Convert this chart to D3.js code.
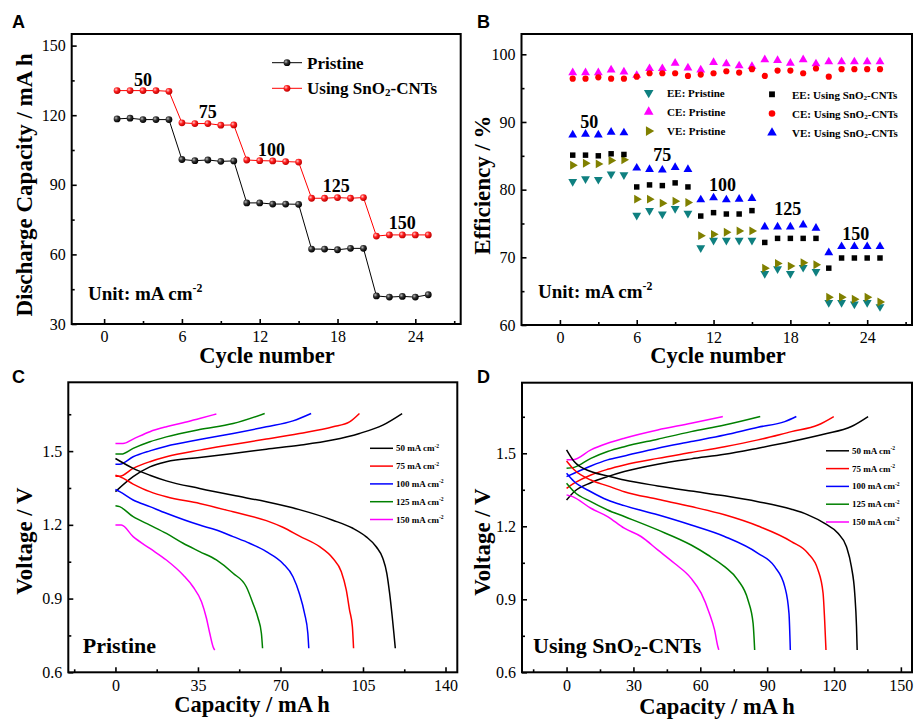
<!DOCTYPE html>
<html>
<head>
<meta charset="utf-8">
<script src="https://cdn.jsdelivr.net/npm/d3@7"></script>
<style>
  body { margin: 0; background: #fff; }
  svg text { font-family: "Liberation Serif", "Times New Roman", serif; }
  svg text.letter { font-family: "Liberation Sans", Arial, sans-serif; }
</style>
</head>
<body>
<div id="chart"></div>
<script>
'use strict'

////////////////////////////////////
/////////////// data ///////////////
////////////////////////////////////

const cycles = d3.range(1, 26)
const rateLabels = ['50', '75', '100', '125', '150']

// panel A: discharge capacity (mA h)
const capPristine = [118.4, 118.7, 118.1, 118.1, 118.1, 100.9, 100.4, 100.7, 100.1, 100.3,
    82.2, 82.2, 81.7, 81.7, 81.6, 62.3, 62.3, 62.0, 62.6, 62.6, 42.1, 41.6, 41.9, 41.6, 42.6]
const capSnO2 = [130.6, 130.6, 130.6, 130.6, 130.3, 116.7, 116.4, 116.4, 115.7, 115.8,
    100.7, 100.4, 100.3, 100.0, 99.8, 84.2, 84.2, 84.5, 84.2, 84.5, 67.9, 68.4, 68.4, 68.4, 68.4]

// panel B: efficiencies (%)
const eePristine = [81.2, 81.6, 81.5, 82.3, 82.2, 76.2, 76.9, 76.4, 77.2, 76.5,
    71.4, 72.5, 72.5, 72.5, 72.5, 67.6, 68.3, 67.6, 68.5, 67.9, 63.3, 63.3, 63.1, 63.3, 62.7]
const cePristine = [97.3, 97.3, 97.3, 97.7, 97.4, 96.9, 97.9, 97.9, 98.7, 98.0,
    97.7, 98.8, 98.6, 98.3, 98.2, 99.2, 99.1, 98.7, 99.2, 98.6, 98.9, 98.9, 98.9, 98.9, 98.9]
const vePristine = [83.6, 83.9, 83.8, 84.3, 84.4, 78.6, 78.6, 78.0, 78.3, 78.1,
    73.2, 73.4, 73.7, 73.9, 73.9, 68.4, 69.1, 68.7, 69.2, 68.9, 64.1, 64.1, 63.8, 64.1, 63.4]
const eeSnO2 = [85.1, 85.1, 85.0, 85.3, 85.2, 80.4, 80.7, 80.6, 81.0, 80.4,
    76.1, 76.6, 76.4, 76.4, 76.9, 72.2, 72.8, 72.8, 72.8, 72.8, 68.4, 69.9, 69.9, 69.9, 69.9]
const ceSnO2 = [96.4, 96.4, 96.6, 96.4, 96.4, 96.7, 97.2, 97.2, 97.2, 96.8,
    97.0, 97.2, 97.5, 97.3, 97.8, 96.8, 97.6, 97.6, 97.2, 97.9, 96.7, 97.8, 97.8, 97.8, 97.8]
const veSnO2 = [88.1, 88.2, 88.1, 88.5, 88.4, 83.2, 83.0, 82.9, 83.3, 83.0,
    78.5, 78.8, 78.5, 78.6, 78.7, 74.5, 74.5, 74.5, 74.8, 74.3, 70.7, 71.6, 71.6, 71.6, 71.6]

// rate labels placed over the steps: [cycle, value]
const stepLabelsA = [[3, 132.6], [8, 118.7], [12.9, 102.4], [17.9, 87], [23, 70.8]]
const stepLabelsB = [[2.3, 89.1], [8, 84.2], [12.7, 79.8], [17.8, 76.2], [23.1, 72.6]]

// panel C: pristine, [capacity mA h, voltage V]
const chargePristine = [
    [[0, 1.335], [7.5, 1.396], [14.6, 1.436], [21.6, 1.457], [35.7, 1.474], [49.9, 1.49], [64, 1.508], [78, 1.524], [92, 1.545], [103.5, 1.572], [113.4, 1.606], [121.6, 1.653]],
    [[0, 1.398], [1.8, 1.398], [7.5, 1.43], [14.6, 1.457], [21.6, 1.477], [35.7, 1.504], [49.9, 1.527], [64, 1.549], [78, 1.572], [92.3, 1.599], [99.3, 1.619], [103.5, 1.653]],
    [[0, 1.447], [1.8, 1.447], [7.5, 1.477], [14.6, 1.501], [21.6, 1.52], [35.7, 1.547], [49.9, 1.572], [64, 1.599], [75.3, 1.623], [83, 1.653]],
    [[0, 1.488], [2.5, 1.488], [7.5, 1.511], [14.6, 1.538], [21.6, 1.558], [35.7, 1.588], [49.9, 1.612], [63.3, 1.653]],
    [[0, 1.531], [3.2, 1.531], [7.5, 1.549], [14.6, 1.579], [21.6, 1.599], [28.7, 1.615], [35.7, 1.633], [42.8, 1.651]]
]
const dischargePristine = [
    [[0, 1.47], [7.5, 1.43], [14.6, 1.402], [21.6, 1.379], [35.7, 1.348], [49.9, 1.32], [64, 1.294], [78, 1.262], [92.2, 1.219], [100.7, 1.186], [106.4, 1.151], [110.6, 1.111], [113.4, 1.064], [115.1, 1.003], [116.3, 0.921], [117.4, 0.826], [118.1, 0.759], [118.7, 0.698]],
    [[0, 1.402], [1.8, 1.396], [7.5, 1.366], [14.6, 1.335], [21.6, 1.314], [35.7, 1.287], [49.9, 1.253], [64, 1.217], [71, 1.19], [78.1, 1.154], [86.6, 1.111], [92.2, 1.064], [95.8, 1.009], [97.9, 0.935], [99.3, 0.853], [100.5, 0.785], [101, 0.698]],
    [[0, 1.344], [1.8, 1.335], [7.5, 1.301], [14.6, 1.274], [21.6, 1.247], [35.7, 1.199], [42.8, 1.179], [49.9, 1.152], [56.9, 1.125], [64, 1.091], [71, 1.043], [75.3, 0.989], [78, 0.921], [80.2, 0.84], [81.6, 0.759], [82, 0.698]],
    [[0, 1.278], [1.8, 1.274], [7.5, 1.233], [14.6, 1.199], [21.6, 1.165], [28.7, 1.125], [35.7, 1.091], [42.8, 1.057], [49.9, 1.003], [55.5, 0.948], [58.3, 0.881], [60.5, 0.82], [61.9, 0.759], [62.4, 0.698]],
    [[0, 1.199], [2.5, 1.199], [7.5, 1.152], [14.6, 1.104], [21.6, 1.057], [28.7, 0.996], [32.9, 0.948], [36.5, 0.887], [38.6, 0.82], [40, 0.759], [41.4, 0.704], [42.1, 0.69]]
]

// panel D: using SnO2-CNTs
const chargeSnO2 = [
    [[0, 1.308], [3.4, 1.342], [10.9, 1.379], [18.4, 1.404], [25.9, 1.425], [40.9, 1.455], [55.9, 1.477], [70.9, 1.496], [85.9, 1.521], [100.9, 1.548], [115.8, 1.579], [127.8, 1.61], [135.3, 1.651]],
    [[0, 1.356], [3.4, 1.377], [10.9, 1.411], [18.4, 1.434], [25.9, 1.452], [40.9, 1.479], [55.9, 1.503], [70.9, 1.527], [85.9, 1.555], [100.9, 1.589], [112.8, 1.616], [119.9, 1.651]],
    [[0, 1.404], [3.4, 1.418], [10.9, 1.448], [18.4, 1.473], [25.9, 1.489], [40.9, 1.521], [55.9, 1.548], [70.9, 1.575], [85.9, 1.607], [97.9, 1.63], [103.1, 1.651]],
    [[0, 1.438], [3.4, 1.442], [10.9, 1.479], [18.4, 1.507], [25.9, 1.527], [40.9, 1.558], [55.9, 1.589], [70.9, 1.616], [86.9, 1.651]],
    [[0, 1.473], [2.7, 1.473], [10.9, 1.514], [18.4, 1.541], [25.9, 1.562], [40.9, 1.596], [55.9, 1.623], [70.1, 1.651]]
]
const dischargeSnO2 = [
    [[0, 1.514], [3.4, 1.466], [10.9, 1.425], [18.4, 1.407], [25.9, 1.39], [40.9, 1.366], [55.9, 1.345], [70.9, 1.325], [85.9, 1.301], [100.9, 1.27], [108.3, 1.247], [115.8, 1.212], [121.8, 1.171], [125.6, 1.116], [127.8, 1.034], [129.3, 0.925], [130.1, 0.788], [130.4, 0.692]],
    [[0, 1.468], [3.4, 1.432], [10.9, 1.39], [18.4, 1.366], [25.9, 1.342], [40.9, 1.311], [55.9, 1.281], [70.9, 1.247], [85.9, 1.201], [100.9, 1.137], [108.3, 1.089], [112.8, 1.021], [115.1, 0.925], [115.8, 0.815], [116.4, 0.692]],
    [[0, 1.418], [3.4, 1.384], [10.9, 1.342], [18.4, 1.308], [25.9, 1.285], [40.9, 1.247], [55.9, 1.205], [70.9, 1.158], [85.9, 1.089], [93.4, 1.034], [97.9, 0.952], [99.8, 0.842], [100.4, 0.692]],
    [[0, 1.377], [3.4, 1.342], [10.9, 1.301], [18.4, 1.267], [25.9, 1.24], [40.9, 1.185], [55.9, 1.123], [63.4, 1.082], [70.9, 1.034], [76.9, 0.979], [81.4, 0.897], [83.7, 0.801], [84.4, 0.692]],
    [[0, 1.329], [2.7, 1.322], [10.9, 1.274], [18.4, 1.24], [25.9, 1.192], [33.4, 1.158], [40.9, 1.103], [48.4, 1.048], [55.9, 0.986], [60.4, 0.925], [64.1, 0.842], [66.4, 0.774], [67.9, 0.705], [68.3, 0.692]]
]

const rateColors = ['#000000', '#ff0000', '#0000ff', '#008000', '#ff00ff']

////////////////////////////////////
//////////// svg setup /////////////
////////////////////////////////////

const svgWidth = 917, svgHeight = 721
const svg = d3.select('#chart').append('svg')
    .attr('width', svgWidth)
    .attr('height', svgHeight)

const defs = svg.append('defs')
function ballGradient(id, light, mid, dark) {
    const grad = defs.append('radialGradient').attr('id', id)
        .attr('cx', '35%').attr('cy', '35%').attr('r', '65%')
    grad.append('stop').attr('offset', '0%').attr('stop-color', light)
    grad.append('stop').attr('offset', '45%').attr('stop-color', mid)
    grad.append('stop').attr('offset', '100%').attr('stop-color', dark)
}
ballGradient('ball-black', '#bbbbbb', '#333333', '#000000')
ballGradient('ball-red', '#ffc8c8', '#ff2020', '#c00000')

// frame + inward ticks for one panel
function panel(box, xDom, yDom, xMajor, xMinor, yMajor, yMinor, yFmt) {
    const g = svg.append('g')
    const x = d3.scaleLinear().domain(xDom).range([box.l, box.r])
    const y = d3.scaleLinear().domain(yDom).range([box.b, box.t])

    const style = sel => {
        sel.select('.domain').remove()
        sel.selectAll('line').attr('stroke-width', 1.6)
        sel.selectAll('text').attr('font-size', 16)
    }

    g.append('g').attr('transform', `translate(0,${box.b})`)
        .call(d3.axisBottom(x).tickValues(xMinor).tickSizeInner(-3).tickSizeOuter(0).tickFormat(''))
        .call(style)
    g.append('g').attr('transform', `translate(0,${box.b})`)
        .call(d3.axisBottom(x).tickValues(xMajor).tickSizeInner(-5).tickSizeOuter(0).tickPadding(7))
        .call(style)
    g.append('g').attr('transform', `translate(${box.l},0)`)
        .call(d3.axisLeft(y).tickValues(yMinor).tickSizeInner(-3).tickSizeOuter(0).tickFormat(''))
        .call(style)
    g.append('g').attr('transform', `translate(${box.l},0)`)
        .call(d3.axisLeft(y).tickValues(yMajor).tickSizeInner(-5).tickSizeOuter(0).tickPadding(6).tickFormat(yFmt))
        .call(style)

    g.append('rect')
        .attr('x', box.l).attr('y', box.t)
        .attr('width', box.r - box.l).attr('height', box.b - box.t)
        .attr('fill', 'none').attr('stroke', '#000').attr('stroke-width', 2)

    return { g, x, y }
}

// text with optional sub/superscript pieces: [[str, 'sub'|'sup'|'back'|null], ...]
function richText(parent, x, y, parts, size, weight) {
    const t = parent.append('text').attr('x', x).attr('y', y)
        .attr('font-size', size).attr('font-weight', weight || 'bold')
    parts.forEach(([s, kind]) => {
        const ts = t.append('tspan').text(s)
        if (kind === 'sub') ts.attr('font-size', size * 0.65).attr('dy', size * 0.12)
        if (kind === 'sup') ts.attr('font-size', size * 0.62).attr('dy', -size * 0.4)
        if (kind === 'back') ts.attr('dy', -size * 0.12)
    })
    return t
}

function panelLetter(x, y, s) {
    svg.append('text').attr('class', 'letter').attr('x', x).attr('y', y).text(s)
        .attr('font-weight', 'bold').attr('font-size', 18)
}

function yTitle(x, y, s, size) {
    svg.append('text').attr('transform', `translate(${x},${y}) rotate(-90)`)
        .attr('text-anchor', 'middle').attr('font-weight', 'bold')
        .attr('font-size', size).text(s)
}

function xTitle(x, y, s, size) {
    svg.append('text').attr('x', x).attr('y', y)
        .attr('text-anchor', 'middle').attr('font-weight', 'bold')
        .attr('font-size', size).text(s)
}

const unitParts = [['Unit: mA cm', null], ['-2', 'sup']]
const sno2Parts = [['Using SnO', null], ['2', 'sub'], ['-CNTs', 'back']]

////////////////////////////////////
///////////// panel A //////////////
////////////////////////////////////

const A = panel({ l: 71.7, r: 460.7, t: 34, b: 324 }, [-2.5, 27.5], [30, 155],
    [0, 6, 12, 18, 24], [3, 9, 15, 21, 27], [30, 60, 90, 120, 150], [45, 75, 105, 135], d3.format('d'))

const lineA = d3.line().x((d, i) => A.x(cycles[i])).y(d => A.y(d))
A.g.append('path').attr('d', lineA(capPristine)).attr('fill', 'none').attr('stroke', '#000').attr('stroke-width', 1)
A.g.append('path').attr('d', lineA(capSnO2)).attr('fill', 'none').attr('stroke', '#ff0000').attr('stroke-width', 1)

A.g.selectAll('.pt-pristine').data(capPristine).join('circle')
    .attr('class', 'pt-pristine')
    .attr('cx', (d, i) => A.x(cycles[i])).attr('cy', d => A.y(d)).attr('r', 3.4)
    .attr('fill', 'url(#ball-black)')
A.g.selectAll('.pt-sno2').data(capSnO2).join('circle')
    .attr('class', 'pt-sno2')
    .attr('cx', (d, i) => A.x(cycles[i])).attr('cy', d => A.y(d)).attr('r', 3.4)
    .attr('fill', 'url(#ball-red)')

A.g.selectAll('.step-label').data(stepLabelsA).join('text')
    .attr('class', 'step-label')
    .attr('x', d => A.x(d[0])).attr('y', d => A.y(d[1]))
    .attr('text-anchor', 'middle').attr('font-weight', 'bold').attr('font-size', 18)
    .text((d, i) => rateLabels[i])

// legend A
const legA = [['#000', 'url(#ball-black)', [['Pristine', null]]], ['#ff0000', 'url(#ball-red)', sno2Parts]]
legA.forEach(([stroke, fill, parts], i) => {
    const yy = 62.7 + i * 25.6
    A.g.append('line').attr('x1', 272).attr('x2', 302).attr('y1', yy).attr('y2', yy)
        .attr('stroke', stroke).attr('stroke-width', 1)
    A.g.append('circle').attr('cx', 287).attr('cy', yy).attr('r', 3.4).attr('fill', fill)
    richText(A.g, 307, yy + 5.8, parts, 17)
})

richText(A.g, 88, 300, unitParts, 19)
panelLetter(12, 28, 'A')
yTitle(32, 185, 'Discharge Capacity / mA h', 23)
xTitle(267, 362.5, 'Cycle number', 22.5)

////////////////////////////////////
///////////// panel B //////////////
////////////////////////////////////

const B = panel({ l: 521.5, r: 912, t: 34, b: 325 }, [-3, 27.5], [60, 103],
    [0, 6, 12, 18, 24], [3, 9, 15, 21, 27], [60, 70, 80, 90, 100], [65, 75, 85, 95], d3.format('d'))

const seriesB = [
    { values: eePristine, shape: d3.symbolTriangle, rot: 180, color: '#0f8080', label: [['EE: Pristine', null]] },
    { values: cePristine, shape: d3.symbolTriangle, rot: 0, color: '#ff00ff', label: [['CE: Pristine', null]] },
    { values: vePristine, shape: d3.symbolTriangle, rot: 90, color: '#808000', label: [['VE: Pristine', null]] },
    { values: eeSnO2, shape: d3.symbolSquare, rot: 0, color: '#000000', label: [['EE: Using SnO', null], ['2', 'sub'], ['-CNTs', 'back']] },
    { values: ceSnO2, shape: d3.symbolCircle, rot: 0, color: '#ff0000', label: [['CE: Using SnO', null], ['2', 'sub'], ['-CNTs', 'back']] },
    { values: veSnO2, shape: d3.symbolTriangle, rot: 0, color: '#0000ff', label: [['VE: Using SnO', null], ['2', 'sub'], ['-CNTs', 'back']] }
]

seriesB.forEach(s => {
    const sym = d3.symbol().type(s.shape).size(s.shape === d3.symbolTriangle ? 34 : 30)
    B.g.append('g').selectAll('path').data(s.values).join('path')
        .attr('d', sym())
        .attr('transform', (d, i) => `translate(${B.x(cycles[i])},${B.y(d)}) rotate(${s.rot})`)
        .attr('fill', s.color)
})

B.g.selectAll('.step-label').data(stepLabelsB).join('text')
    .attr('class', 'step-label')
    .attr('x', d => B.x(d[0])).attr('y', d => B.y(d[1]))
    .attr('text-anchor', 'middle').attr('font-weight', 'bold').attr('font-size', 18)
    .text((d, i) => rateLabels[i])

// legend B (two columns of three)
seriesB.forEach((s, i) => {
    const col = Math.floor(i / 3), row = i % 3
    const mx = col === 0 ? 648.7 : 772
    const my = (col === 0 ? 92.7 : 94.3) + row * 19.2
    const sym = d3.symbol().type(s.shape).size(s.shape === d3.symbolTriangle ? 40 : 34)
    B.g.append('path').attr('d', sym())
        .attr('transform', `translate(${mx},${my}) rotate(${s.rot})`)
        .attr('fill', s.color)
    richText(B.g, col === 0 ? 667 : 792, my + 4.3, s.label, 11)
})

richText(B.g, 538, 297.7, unitParts, 19)
panelLetter(477, 28, 'B')
yTitle(490, 185, 'Efficiency / %', 23)
xTitle(718, 362.5, 'Cycle number', 22.5)

////////////////////////////////////
/////////// panels C & D ///////////
////////////////////////////////////

function curvesPanel(P, charge, discharge, legX, legY0) {
    const line = d3.line().x(d => P.x(d[0])).y(d => P.y(d[1])).curve(d3.curveMonotoneX)
    charge.forEach((c, i) => {
        P.g.append('path').attr('d', line(c)).attr('fill', 'none')
            .attr('stroke', rateColors[i]).attr('stroke-width', 1.5)
    })
    discharge.forEach((c, i) => {
        P.g.append('path').attr('d', line(c)).attr('fill', 'none')
            .attr('stroke', rateColors[i]).attr('stroke-width', 1.5)
    })
    rateLabels.forEach((r, i) => {
        const yy = legY0 + i * 17.8
        P.g.append('line').attr('x1', legX).attr('x2', legX + 23).attr('y1', yy).attr('y2', yy)
            .attr('stroke', rateColors[i]).attr('stroke-width', 1.5)
        richText(P.g, legX + 26, yy + 3, [[r + ' mA cm', null], ['-2', 'sup']], 9)
    })
}

const fmtV = d3.format('.1f')

const C = panel({ l: 68.3, r: 457.3, t: 382.3, b: 672.3 }, [-20, 145], [0.6, 1.78],
    [0, 35, 70, 105, 140], [-17.5, 17.5, 52.5, 87.5, 122.5], [0.6, 0.9, 1.2, 1.5], [0.75, 1.05, 1.35, 1.65], fmtV)
curvesPanel(C, chargePristine, dischargePristine, 370, 448.3)
richText(C.g, 82.7, 653.3, [['Pristine', null]], 22)
panelLetter(12, 383, 'C')
yTitle(32, 541, 'Voltage / V', 23)
xTitle(252, 711.5, 'Capacity / mA h', 22.5)

const D = panel({ l: 522, r: 912, t: 382.7, b: 672.3 }, [-20, 155], [0.6, 1.79],
    [0, 30, 60, 90, 120, 150], [-15, 15, 45, 75, 105, 135], [0.6, 0.9, 1.2, 1.5], [0.75, 1.05, 1.35, 1.65], fmtV)
curvesPanel(D, chargeSnO2, dischargeSnO2, 826, 450.8)
richText(D.g, 533, 653.3, sno2Parts, 22)
panelLetter(477, 383, 'D')
yTitle(490, 542, 'Voltage / V', 23)
xTitle(717, 714, 'Capacity / mA h', 22.5)
</script>
</body>
</html>
